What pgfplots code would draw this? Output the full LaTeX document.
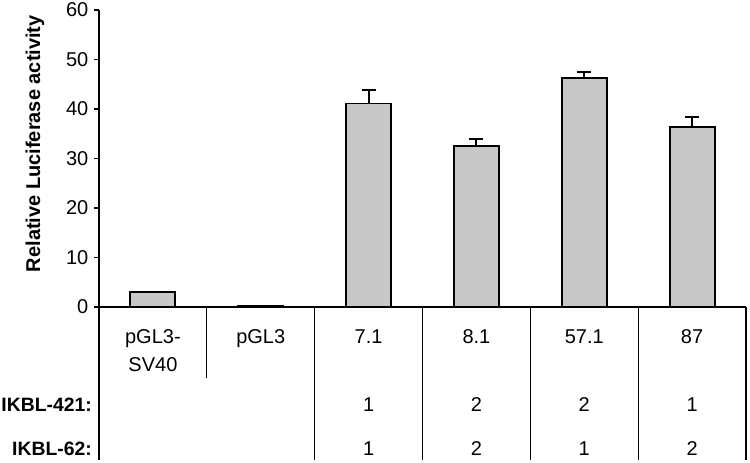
\documentclass[border=0pt]{standalone}
\usepackage{pgfplots}
\pgfplotsset{compat=1.18}
\usepackage{pgfplotstable}
\usepackage{fontspec}
\setmainfont{Liberation Sans}
\definecolor{barfill}{RGB}{200,200,200}
\pgfplotstableread{
x y
0.5 3.0
1.5 0.2
}\ctrltable
\pgfplotstableread{
x y err
2.5 41.1 2.7
3.5 32.5 1.4
4.5 46.2 1.3
5.5 36.3 2.1
}\datatable
\begin{document}
\begin{tikzpicture}[font=\fontsize{15}{18}\selectfont]
\useasboundingbox (-74.25pt,-116.25pt) rectangle (488.25pt,230.25pt);
\begin{axis}[
  at={(0,0)}, anchor=south west,
  scale only axis, width=485.25pt, height=222.75pt,
  xmin=0, xmax=6, ymin=0, ymax=60,
  axis lines*=left,
  clip=false,
  x axis line style={line width=0.8pt},
  y axis line style={line width=1pt},
  xtick=\empty,
  ytick={0,10,...,60},
  tick align=outside,
  major tick length=3.5pt,
  ytick style={line width=0.8pt, black},
  yticklabel style={font=\fontsize{15}{18}\selectfont, xshift=-1pt},
  /pgf/number format/assume math mode=true,
  ylabel={\bfseries Relative Luciferase activity},
  ylabel style={at={(axis description cs:-0.099,0.55)}, anchor=center, font=\fontsize{15}{18}\selectfont},
]
\addplot[ybar, bar width=33.75pt, bar shift=0pt, fill=barfill, draw=black, line width=1.4pt]
  table[x=x, y=y] {\ctrltable};
\addplot[ybar, bar width=33.75pt, bar shift=0pt, fill=barfill, draw=black, line width=1.4pt,
  error bars/.cd, y dir=plus, y explicit,
  error bar style={line width=1.4pt, black},
  error mark options={rotate=90, mark size=5.25pt, line width=1.4pt, black}]
  table[x=x, y=y, y error=err] {\datatable};
% table lines
\draw[line width=1pt] (axis cs:0,0) -- (axis cs:0,-30.9);
\draw[line width=0.8pt] (axis cs:1,0) -- (axis cs:1,-14.3);
\draw[line width=0.8pt] (axis cs:2,0) -- (axis cs:2,-30.9);
\draw[line width=0.8pt] (axis cs:3,0) -- (axis cs:3,-30.9);
\draw[line width=0.8pt] (axis cs:4,0) -- (axis cs:4,-30.9);
\draw[line width=0.8pt] (axis cs:5,0) -- (axis cs:5,-30.9);
\draw[line width=0.8pt] (axis cs:6,0) -- (axis cs:6,-30.9);
% category labels
\node[anchor=base] at (axis cs:0.5,-7.3) {pGL3-};
\node[anchor=base] at (axis cs:0.5,-13.1) {SV40};
\node[anchor=base] at (axis cs:1.5,-7.3) {pGL3};
\node[anchor=base] at (axis cs:2.5,-7.3) {7.1};
\node[anchor=base] at (axis cs:3.5,-7.3) {8.1};
\node[anchor=base] at (axis cs:4.5,-7.3) {57.1};
\node[anchor=base] at (axis cs:5.5,-7.3) {87};
% rows
\node[anchor=base east, inner sep=0pt, font=\fontsize{14.5}{17}\selectfont\bfseries] at (axis cs:-0.065,-21.2) {IKBL-421:};
\node[anchor=base east, inner sep=0pt, font=\fontsize{14.5}{17}\selectfont\bfseries] at (axis cs:-0.065,-29.9) {IKBL-62:};
\node[anchor=base] at (axis cs:2.5,-21.2) {1};
\node[anchor=base] at (axis cs:3.5,-21.2) {2};
\node[anchor=base] at (axis cs:4.5,-21.2) {2};
\node[anchor=base] at (axis cs:5.5,-21.2) {1};
\node[anchor=base] at (axis cs:2.5,-29.9) {1};
\node[anchor=base] at (axis cs:3.5,-29.9) {2};
\node[anchor=base] at (axis cs:4.5,-29.9) {1};
\node[anchor=base] at (axis cs:5.5,-29.9) {2};
\end{axis}
\end{tikzpicture}
\end{document}
